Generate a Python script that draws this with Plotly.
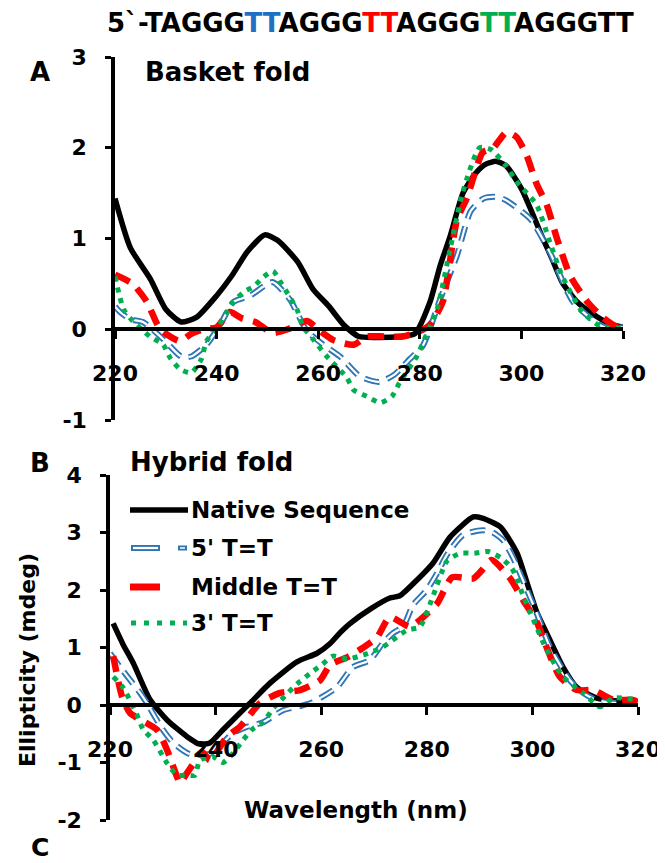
import plotly.graph_objects as go

# ---------------- data ----------------
# Panel A: Basket fold
basket_native_wl = [220, 223, 227, 230, 233, 236, 240, 243, 246, 249.5, 252, 256, 259, 262, 265, 268, 272, 276,
                    279, 282, 284, 286, 288.5, 291, 293, 295, 297, 300, 302, 304, 306, 308, 311, 314, 317, 320]
basket_native = [1.44, 0.9, 0.55, 0.22, 0.08, 0.13, 0.37, 0.59, 0.85, 1.04, 0.98, 0.74, 0.44, 0.26, 0.05, -0.08,
                 -0.09, -0.08, -0.05, 0.3, 0.7, 1.03, 1.5, 1.72, 1.82, 1.85, 1.8, 1.55, 1.3, 1.03, 0.78, 0.52,
                 0.3, 0.17, 0.07, 0.02]

basket_5p_wl = [220, 221, 223, 225.5, 229.5, 233, 235, 238, 240.7, 243.3, 246.6, 251, 254.4, 257.8, 261, 264.3,
                268.2, 272, 275, 278, 280.6, 284, 287.3, 290, 292.5, 295, 297, 300, 302, 305.6, 310.2, 316, 320]
basket_5p = [0.25, 0.19, 0.11, 0.08, -0.11, -0.3, -0.3, -0.17, 0.05, 0.3, 0.37, 0.52, 0.33, -0.02, -0.17, -0.3,
             -0.52, -0.58, -0.5, -0.33, -0.18, 0.33, 0.81, 1.3, 1.44, 1.46, 1.42, 1.3, 1.2, 0.85, 0.3, 0.03, 0.02]

basket_mid_wl = [220, 223.5, 226.3, 228.9, 232.8, 235, 237.5, 240, 242.6, 245, 247.6, 251, 254, 257.8, 260.4,
                 263, 267, 269.6, 273, 276.7, 280, 282, 284.5, 287.3, 289.3, 292.4, 294.5, 297, 299, 301, 303,
                 305, 307, 309.6, 313, 316, 319, 320]
basket_mid = [0.6, 0.5, 0.3, 0.0, -0.13, -0.05, 0.0, 0.02, 0.19, 0.12, 0.08, -0.04, 0.0, 0.09, -0.02, -0.12,
              -0.17, -0.08, -0.08, -0.08, -0.02, 0.05, 0.3, 1.2, 1.45, 1.95, 2.0, 2.17, 2.12, 1.92, 1.6, 1.37,
              1.0, 0.59, 0.3, 0.13, 0.02, 0.02]

basket_3p_wl = [220, 221.7, 223.5, 226.9, 229.5, 230.8, 232.8, 235, 237, 238, 240, 242, 243.3, 245.3, 247.3,
                249.3, 251.1, 252.8, 255.8, 257, 259, 261.7, 265.6, 267, 269.6, 272.2, 274.5, 276, 279.4, 281,
                283.4, 286, 288.5, 291.8, 294, 297, 299, 303, 305.6, 308, 312, 316, 320]
basket_3p = [0.58, 0.22, 0.09, -0.08, -0.17, -0.31, -0.44, -0.48, -0.33, -0.13, 0.0, 0.19, 0.3, 0.41, 0.47,
             0.58, 0.64, 0.5, 0.22, 0.03, -0.11, -0.3, -0.53, -0.67, -0.74, -0.81, -0.74, -0.59, -0.3, -0.1,
             0.22, 0.89, 1.52, 2.0, 1.98, 1.8, 1.63, 1.37, 0.96, 0.59, 0.19, 0.02, 0.02]

# Panel B: Hybrid fold
hybrid_native_wl = [220.6, 222.5, 224.4, 227.6, 230.8, 234.6, 237, 238.9, 241.4, 244.6, 246.5, 250.3, 255.4,
                    259.2, 261.7, 263.5, 265.5, 269.5, 273, 274.9, 278.1, 281.2, 284.4, 288.8, 290.5, 293.9,
                    297.1, 299, 300.9, 302.7, 305.8, 308.4, 312.2, 316, 320]
hybrid_native = [1.42, 1.05, 0.73, 0.09, -0.26, -0.55, -0.68, -0.66, -0.43, -0.14, 0.03, 0.38, 0.75, 0.9,
                 1.07, 1.25, 1.42, 1.68, 1.86, 1.9, 2.17, 2.47, 2.92, 3.27, 3.25, 3.1, 2.64, 2.12, 1.6, 1.25,
                 0.66, 0.31, 0.12, 0.07, 0.05]

hybrid_5p_wl = [220, 221.9, 225.7, 227, 230, 232, 235, 238.9, 243.3, 245.9, 249, 252.8, 256, 258.4, 263,
                266, 269.2, 271.7, 273.6, 275.5, 277.4, 280, 282, 284, 286.9, 290.6, 292.5, 294.4, 296.3,
                298.2, 300.8, 303.3, 307.1, 309.6, 312.2, 316.6, 320]
hybrid_5p = [0.9, 0.66, 0.21, 0.03, -0.43, -0.66, -0.85, -0.85, -0.49, -0.38, -0.3, -0.09, -0.02, 0.05, 0.31,
             0.66, 0.78, 1.08, 1.25, 1.36, 1.74, 2.0, 2.3, 2.64, 2.96, 3.04, 3.0, 2.87, 2.57, 2.17, 1.6, 1.01,
             0.43, 0.21, 0.08, 0.03, 0.03]

hybrid_mid_wl = [220.6, 222.3, 223.8, 228.9, 230.8, 232.7, 233.3, 234.6, 237.6, 238.9, 242.2, 244.6, 248.4,
                 252.2, 256, 259.8, 261.7, 264.9, 268, 270.6, 273, 276.8, 278.7, 282, 284.8, 288.8, 290.5, 292.3,
                 295.8, 298.2, 300.9, 302.7, 305.2, 308.4, 311.5, 315.3, 319, 320]
hybrid_mid = [0.85, 0.14, -0.14, -0.43, -0.78, -1.25, -1.36, -1.18, -0.83, -0.96, -0.55, -0.38, 0.03, 0.21,
              0.26, 0.43, 0.7, 0.83, 1.0, 1.18, 1.53, 1.36, 1.48, 1.77, 2.22, 2.2, 2.35, 2.52, 2.2, 1.83, 1.43,
              1.0, 0.49, 0.26, 0.26, 0.09, 0.09, 0.05]

hybrid_3p_wl = [220.6, 222.5, 225.1, 226.3, 228.2, 230.8, 232.7, 234.6, 236.1, 237, 239.5, 241.4, 243.3, 245.2,
                247, 249, 251, 253.7, 255.6, 257.9, 260.1, 262.2, 265, 268, 271.7, 276.2, 278.7, 281.2, 283.8,
                286.3, 289, 291.6, 294.2, 296.1, 297.3, 298.2, 300.2, 302.7, 305.8, 309.6, 312.8, 315.3, 319.8]
hybrid_3p = [0.49, 0.3, -0.17, -0.43, -0.61, -1.01, -1.22, -1.22, -1.22, -0.96, -0.9, -1.0, -0.84, -0.61,
             -0.42, -0.3, -0.05, 0.21, 0.38, 0.55, 0.7, 0.85, 0.8, 0.87, 1.01, 1.3, 1.36, 1.9, 2.5, 2.64, 2.64,
             2.67, 2.55, 2.38, 2.14, 1.91, 1.48, 0.96, 0.49, 0.21, -0.03, 0.12, 0.09]

series_names = ["Native Sequence", "5' T=T", "Middle T=T", "3' T=T"]
x_ticks = [220, 240, 260, 280, 300, 320]
yA_ticks = [-1, 0, 1, 2, 3]
yA_tick_labels = ["-1", "0", "1", "2", "3"]
yB_ticks = [-2, -1, 0, 1, 2, 3, 4]
yB_tick_labels = ["-2", "-1", "0", "1", "2", "3", "4"]

BLACK = "#000000"
BLUE = "#2E75B6"
RED = "#FF0000"
GREEN = "#00B050"

# page is 665x863; the html body adds an 8px margin, so the figure is 8px smaller
# and all page-pixel positions are converted with that offset
PAGE_W, PAGE_H = 665, 863
OFF = 8
W, H = PAGE_W - OFF, PAGE_H - OFF
FONT = "DejaVu Sans"


def px(x):
    return (x - OFF) / W


def py(y):
    return 1 - (y - OFF) / H


fig = go.Figure()


def add_panel(xa, ya, nat_wl, nat, p5_wl, p5, mid_wl, mid, p3_wl, p3):
    common = dict(mode="lines", xaxis=xa, yaxis=ya, showlegend=False, hoverinfo="skip")
    fig.add_trace(go.Scatter(x=nat_wl, y=nat, name=series_names[0],
                             line=dict(color=BLACK, width=5.5, shape="spline", smoothing=0.6), **common))
    fig.add_trace(go.Scatter(x=p5_wl, y=p5, name=series_names[1],
                             line=dict(color=BLUE, width=6, dash="15px,8px", shape="spline", smoothing=0.6),
                             **common))
    fig.add_trace(go.Scatter(x=p5_wl, y=p5, name=series_names[1] + " inner",
                             line=dict(color="white", width=2.2, dash="15px,8px", shape="spline", smoothing=0.6),
                             **common))
    fig.add_trace(go.Scatter(x=mid_wl, y=mid, name=series_names[2],
                             line=dict(color=RED, width=6.5, dash="16px,10px", shape="spline", smoothing=0.6),
                             **common))
    fig.add_trace(go.Scatter(x=p3_wl, y=p3, name=series_names[3],
                             line=dict(color=GREEN, width=5, dash="5px,6px", shape="spline", smoothing=0.6),
                             **common))


add_panel("x", "y", basket_native_wl, basket_native, basket_5p_wl, basket_5p,
          basket_mid_wl, basket_mid, basket_3p_wl, basket_3p)
add_panel("x2", "y2", hybrid_native_wl, hybrid_native, hybrid_5p_wl, hybrid_5p,
          hybrid_mid_wl, hybrid_mid, hybrid_3p_wl, hybrid_3p)

tickfont = dict(family=FONT, size=22, color="black", weight="bold")

# panel geometry (page pixels)
A_x0, A_x1 = 115, 623
A_ytop, A_ybot = 57, 420          # y=3 .. y=-1
B_x0, B_x1 = 110, 638
B_ytop, B_ybot = 475, 820         # y=4 .. y=-2

A_zero = A_ybot - (A_ybot - A_ytop) * (0 - (-1)) / 4
B_zero = B_ybot - (B_ybot - B_ytop) * (0 - (-2)) / 6

xaxis_common = dict(range=[220, 320], tickvals=x_ticks, showgrid=False, zeroline=False,
                    showline=True, linecolor="black", linewidth=3.5, ticks="outside", ticklen=8,
                    tickwidth=2.5, tickcolor="black", tickfont=tickfont, ticklabelstandoff=16,
                    anchor="free", layer="above traces", automargin=False)
yaxis_common = dict(showgrid=False, zeroline=False, showline=True, linecolor="black", linewidth=3.5,
                    ticks="outside", ticklen=6, tickwidth=2.5, tickcolor="black", tickfont=tickfont,
                    ticklabelstandoff=14, automargin=False)

fig.update_layout(
    width=W, height=H,
    margin=dict(l=0, r=0, t=0, b=0, pad=0, autoexpand=False),
    paper_bgcolor="white", plot_bgcolor="rgba(0,0,0,0)",
    showlegend=False,
    xaxis=dict(domain=[px(A_x0), px(A_x1)], position=py(A_zero), **xaxis_common),
    yaxis=dict(domain=[py(A_ybot), py(A_ytop)], range=[-1, 3], tickvals=yA_ticks, ticktext=yA_tick_labels,
               anchor="x", **yaxis_common),
    xaxis2=dict(domain=[px(B_x0), px(B_x1)], position=py(B_zero), **xaxis_common),
    yaxis2=dict(domain=[py(B_ybot), py(B_ytop)], range=[-2, 4], tickvals=yB_ticks, ticktext=yB_tick_labels,
                anchor="x2", **yaxis_common),
)

ann = []


def text(x, y, s, size, xanchor="center", color="black", bold=True, angle=0):
    ann.append(dict(x=px(x), y=py(y), xref="paper", yref="paper", text=s, showarrow=False,
                    xanchor=xanchor, yanchor="middle", textangle=angle,
                    font=dict(family=FONT, size=size, color=color, weight="bold" if bold else "normal")))


seq = ("5`-TAGGG<span style='color:#1F6FC5'>TT</span>AGGG<span style='color:#FF0000'>TT</span>"
       "AGGG<span style='color:#00B050'>TT</span>AGGGTT")
text(370, 23, seq, 26)
text(40, 72, "A", 26)
text(143, 72, "Basket fold", 26, xanchor="left")
text(40, 463, "B", 26)
text(128, 462, "Hybrid fold", 26, xanchor="left")
text(40, 847, "C", 25)
text(27, 660, "Ellipticity (mdeg)", 22, angle=-90)
text(356, 810, "Wavelength (nm)", 23)

# manual legend
leg_y = [510, 548, 587, 623]
for lbl, yy in zip(series_names, leg_y):
    text(189, yy, lbl, 23, xanchor="left")

shapes = []


def seg(x0, x1, y, color, width, dash="solid"):
    shapes.append(dict(type="line", xref="paper", yref="paper", x0=px(x0), x1=px(x1), y0=py(y), y1=py(y),
                       line=dict(color=color, width=width, dash=dash)))


seg(130, 188, leg_y[0], BLACK, 5.5)
seg(131, 160, leg_y[1], BLUE, 6)
seg(133, 158, leg_y[1], "white", 2.2)
seg(178, 187, leg_y[1], BLUE, 5)
seg(180, 185, leg_y[1], "white", 1.5)
seg(130, 160, leg_y[2], RED, 7)
seg(131, 187, leg_y[3], GREEN, 5, dash="5px,8px")

fig.update_layout(annotations=ann, shapes=shapes)

fig.write_html("out.html")
